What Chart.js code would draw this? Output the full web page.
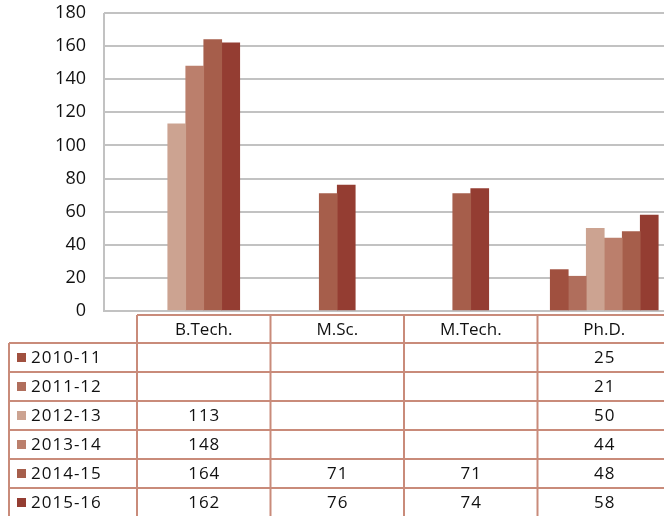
<!DOCTYPE html>
<html>
<head>
<meta charset="utf-8">
<script src="https://cdn.jsdelivr.net/npm/chart.js@4"></script>
<style>
  html, body { margin: 0; padding: 0; background: #ffffff; overflow: hidden; width: 664px; height: 516px; }
  #clip { width: 664px; height: 516px; overflow: hidden; position: relative; }
  #wrap { width: 680px; height: 516px; position: absolute; left: 0; top: 0; }
</style>
</head>
<body>
<div id="clip"><div id="wrap"><canvas id="c"></canvas></div></div>
<script>
// ---- data ----
const categories = ['B.Tech.', 'M.Sc.', 'M.Tech.', 'Ph.D.'];
const seriesLabels = ['2010-11', '2011-12', '2012-13', '2013-14', '2014-15', '2015-16'];
const values2010_11 = [null, null, null, 25];
const values2011_12 = [null, null, null, 21];
const values2012_13 = [113, null, null, 50];
const values2013_14 = [148, null, null, 44];
const values2014_15 = [164, 71, 71, 48];
const values2015_16 = [162, 76, 74, 58];
const yMin = 0, yMax = 180, yStep = 20;

// ---- styles ----
const seriesColors = ['#A0503F', '#B06E5C', '#CCA391', '#BB7F6C', '#A65E4B', '#943D32'];
const seriesValues = [values2010_11, values2011_12, values2012_13, values2013_14, values2014_15, values2015_16];
const GRID = '#c2c2c2';
const BORDER = '#c98b7a';
const TEXT = '#111111';
const FONT = '"Open Sans", "Noto Sans", sans-serif';

const datasets = seriesLabels.map((lab, i) => ({
  label: lab,
  data: seriesValues[i],
  backgroundColor: seriesColors[i],
  borderWidth: 0,
  barThickness: 18,
  skipNull: true
}));

const tablePlugin = {
  id: 'dataTable',
  beforeDatasetsDraw(chart) {
    const ctx = chart.ctx, a = chart.chartArea;
    const ys = chart.scales.y;
    const x = a.left - ys.options.grid.tickLength;
    ctx.save();
    ctx.strokeStyle = GRID;
    ctx.lineWidth = 2;
    ctx.beginPath();
    ctx.moveTo(x, a.top);
    ctx.lineTo(x, a.bottom + 1);
    ctx.stroke();
    ctx.restore();
  },
  afterDraw(chart) {
    const ctx = chart.ctx, xs = chart.scales.x, a = chart.chartArea;
    const n = categories.length;
    const colW = (xs.right - xs.left) / n;
    const top = a.bottom + 4, headH = 28, rowH = 29, left = 9;
    const bottom = top + headH + seriesLabels.length * rowH;
    ctx.save();
    ctx.strokeStyle = BORDER;
    ctx.lineWidth = 2;
    const line = (x1, y1, x2, y2) => { ctx.beginPath(); ctx.moveTo(x1, y1); ctx.lineTo(x2, y2); ctx.stroke(); };
    line(xs.left, top, xs.right, top);
    for (let r = 0; r <= seriesLabels.length; r++) {
      const y = top + headH + r * rowH;
      line(left, y, xs.right, y);
    }
    line(left, top + headH, left, bottom);
    for (let c = 0; c <= n; c++) {
      const x = xs.left + c * colW;
      line(x, top, x, bottom);
    }
    ctx.fillStyle = TEXT;
    ctx.font = '17px ' + FONT;
    ctx.textBaseline = 'middle';
    ctx.textAlign = 'center';
    categories.forEach((cat, c) => {
      ctx.fillText(cat, xs.getPixelForValue(c), top + headH / 2 + 1);
    });
    ctx.letterSpacing = '1px';
    seriesLabels.forEach((lab, r) => {
      const cy = top + headH + r * rowH + rowH / 2;
      ctx.fillStyle = seriesColors[r];
      ctx.fillRect(17, cy - 4.5, 9, 9);
      ctx.fillStyle = TEXT;
      ctx.textAlign = 'left';
      ctx.fillText(lab, 31, cy + 1);
      ctx.textAlign = 'center';
      seriesValues[r].forEach((v, c) => {
        if (v !== null && v !== undefined) ctx.fillText(String(v), xs.getPixelForValue(c) + 0.5, cy + 1);
      });
    });
    ctx.restore();
  }
};

new Chart(document.getElementById('c'), {
  type: 'bar',
  data: { labels: categories, datasets },
  options: {
    responsive: true,
    maintainAspectRatio: false,
    animation: false,
    layout: { padding: { top: 13, right: 9, bottom: 205, left: 0 } },
    plugins: { legend: { display: false }, tooltip: { enabled: false } },
    scales: {
      x: {
        type: 'category',
        offset: true,
        grid: { display: false },
        border: { display: false },
        ticks: { display: false },
        afterFit(scale) { scale.height = 0; scale.paddingLeft = 0; scale.paddingRight = 0; }
      },
      y: {
        min: yMin,
        max: yMax,
        afterFit(scale) { scale.width = 137; scale.paddingTop = 10; scale.paddingBottom = 10; },
        border: { display: false },
        grid: { color: GRID, lineWidth: 2, drawTicks: true, tickLength: 33, tickColor: GRID },
        ticks: { stepSize: yStep, padding: 18, color: TEXT, font: { family: FONT, size: 18 } }
      }
    }
  },
  plugins: [tablePlugin]
});
</script>
</body>
</html>
